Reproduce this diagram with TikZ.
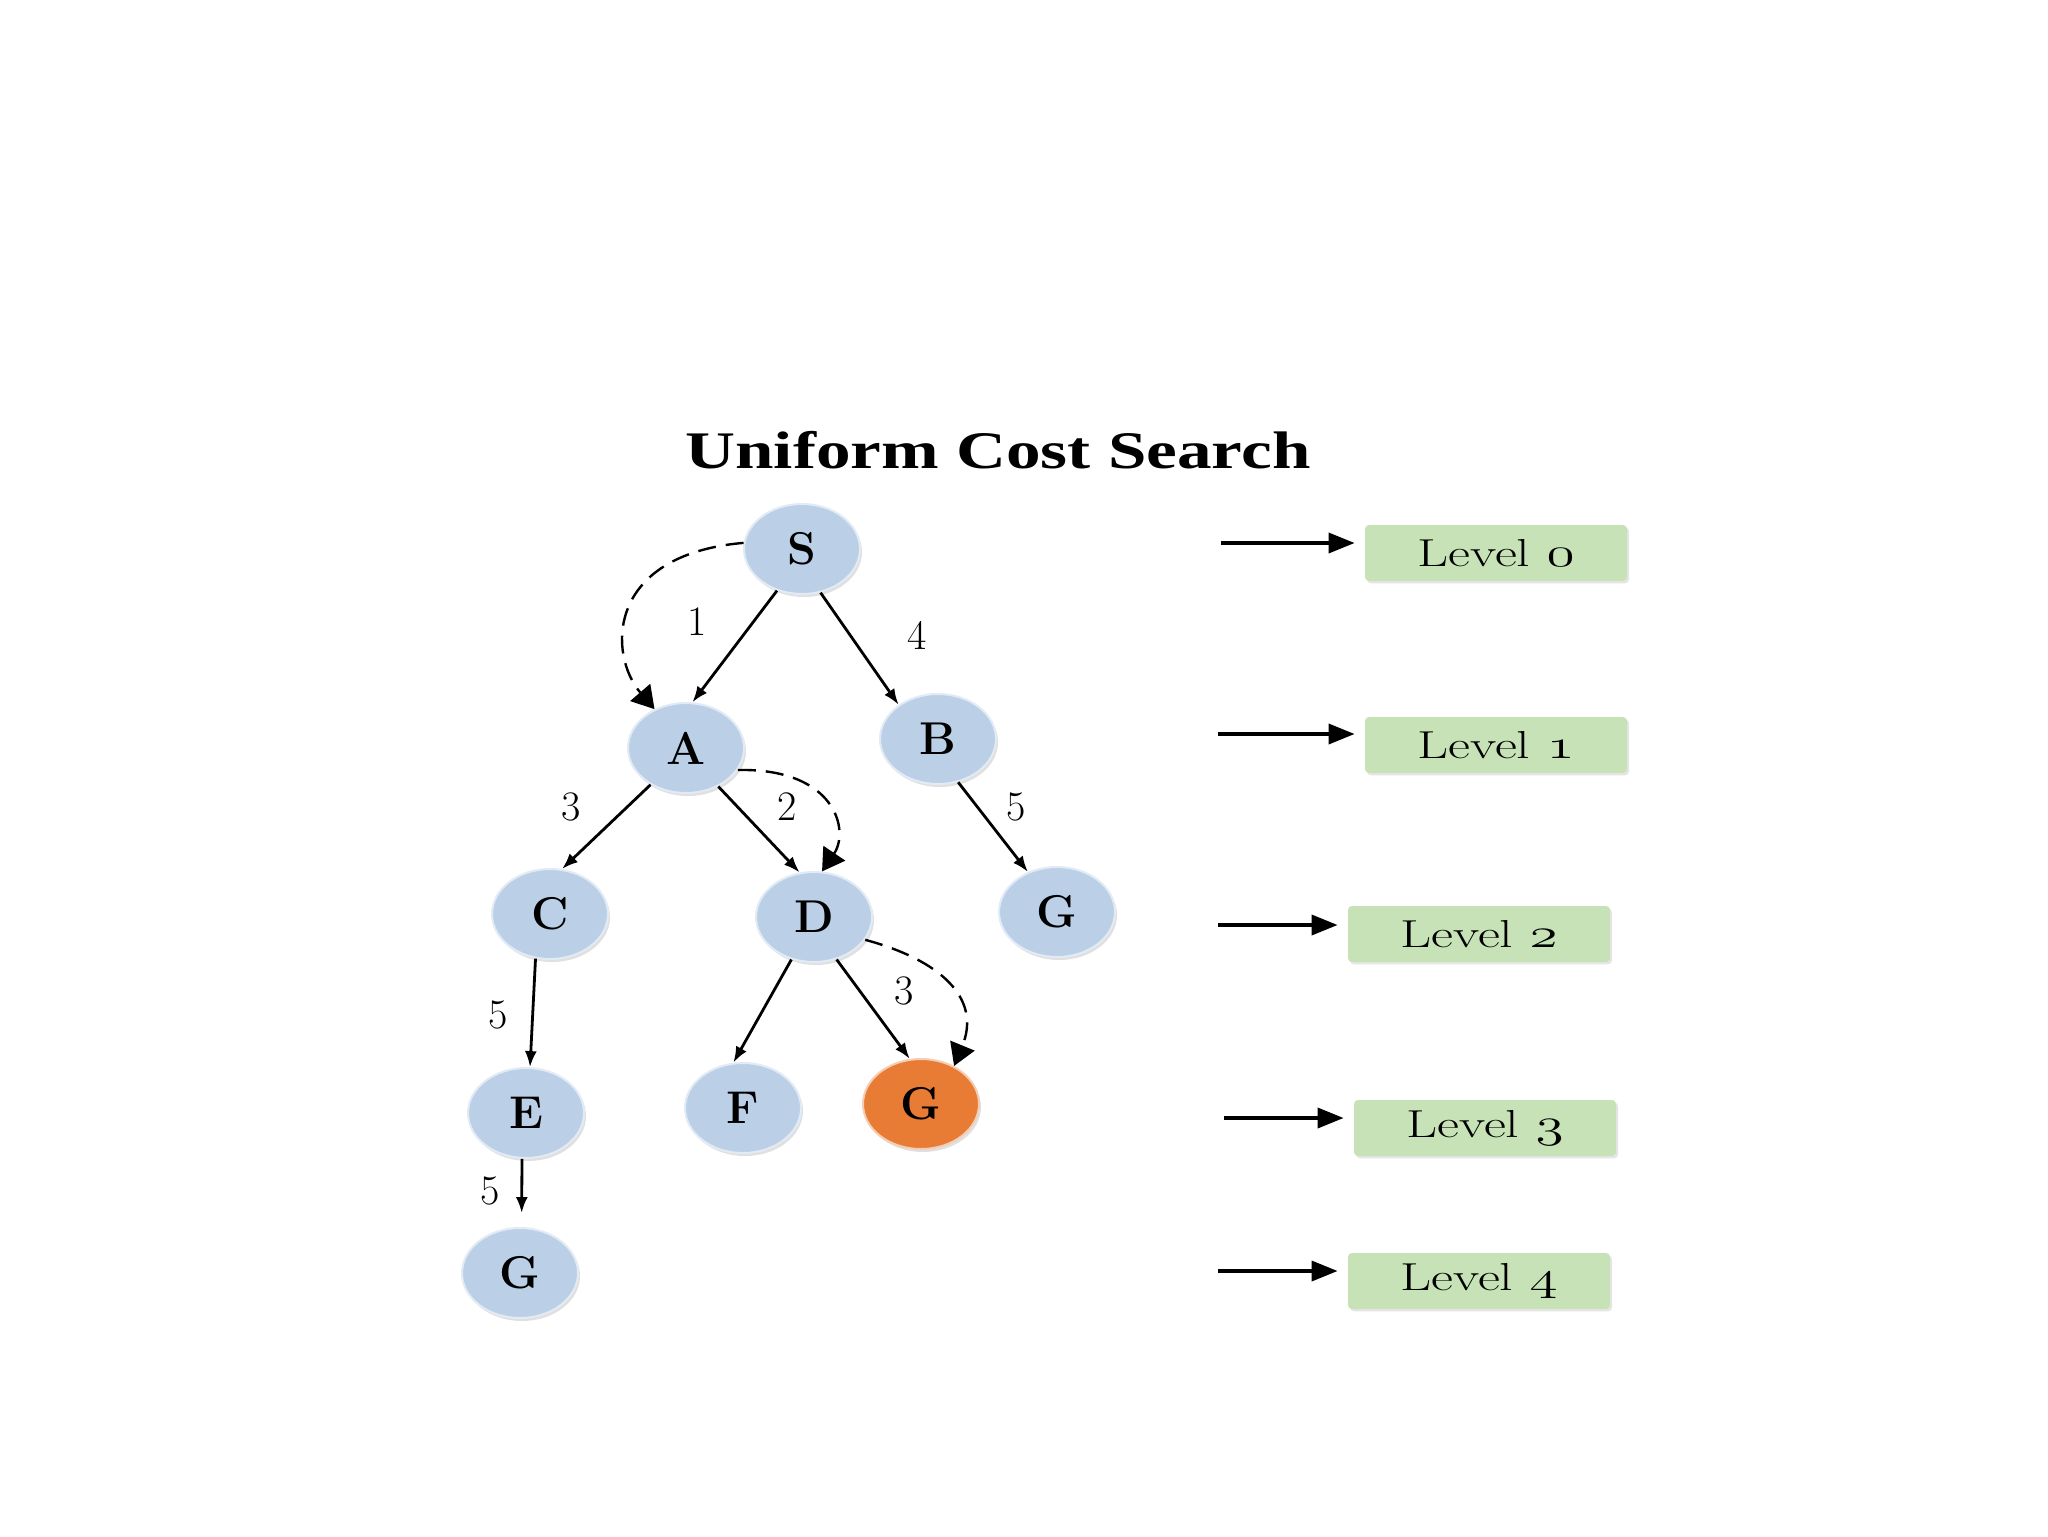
\documentclass[tikz,border=0pt]{standalone}
\usepackage{fontspec}
\usepackage{graphicx}
\newfontfamily\titlefont{Liberation Serif}
\usetikzlibrary{arrows.meta,shapes.geometric,shadows}
\definecolor{nodeblue}{RGB}{187,208,231}
\definecolor{noderim}{RGB}{226,235,245}
\definecolor{goalorange}{RGB}{233,124,52}
\definecolor{goalrim}{RGB}{245,205,180}
\definecolor{levelgreen}{RGB}{200,226,183}
\newcommand{\osnum}[1]{{\fontencoding{OML}\fontfamily{cmm}\fontseries{m}\fontshape{it}\selectfont #1}}
\tikzset{
  tnode/.style={ellipse, minimum width=58pt, minimum height=45pt, inner sep=0pt,
    fill=nodeblue, draw=noderim, line width=1pt,
    font=\fontsize{23}{27}\selectfont\bfseries,
    drop shadow={shadow xshift=1pt, shadow yshift=-1.5pt, opacity=0.3, fill=black!40}},
  goalnode/.style={tnode, fill=goalorange, draw=goalrim},
  treeedge/.style={line width=1.4pt, -{Latex[length=8pt,width=6pt]}},
  trail/.style={line width=1.2pt, dash pattern=on 9pt off 5pt, -{Triangle[length=11pt,width=13pt]}},
  lbl/.style={font=\fontsize{21}{24}\selectfont, inner sep=0pt},
  levelbox/.style={rectangle, rounded corners=2pt, fill=levelgreen, minimum width=131pt,
    minimum height=28pt, inner sep=0pt, font=\fontsize{19.5}{22}\selectfont,
    drop shadow={shadow xshift=1pt, shadow yshift=-1.2pt, opacity=0.25, fill=black!40}},
  levelarrow/.style={line width=1.8pt, -{Triangle[length=13pt,width=10pt]}, shorten >=5pt},
}
\begin{document}
\begin{tikzpicture}[x=0.5pt,y=-0.5pt]
\useasboundingbox[fill=white] (0,0) rectangle (2048,1536);

% title
\node[font=\titlefont\bfseries\fontsize{26.4}{30}\selectfont, anchor=base, inner sep=0pt] (title) at (998,468) {\scalebox{1.31}[1]{Uniform Cost Search}};

% tree nodes
\node[tnode] (S) at (802,549) {S};
\node[tnode] (A) at (686,748) {A};
\node[tnode] (B) at (938,739) {B};
\node[tnode] (C) at (550,914) {C};
\node[tnode] (D) at (814,917) {D};
\node[tnode] (G2) at (1057,912) {G};
\node[tnode] (E) at (526,1113) {E};
\node[tnode] (F) at (743,1108) {F};
\node[goalnode] (Gg) at (921,1104) {G};
\node[tnode] (G4) at (520,1273) {G};

% tree edges
\draw[treeedge] (S.-121) -- (A.82);
\draw[treeedge] (S.-67) -- (B.139);
\draw[treeedge] (A.-134) -- (C.75);
\draw[treeedge] (A.-50) -- (D.108);
\draw[treeedge] (B.-65) -- (G2.126);
\draw[treeedge] (C.-108) -- (E.85);
\draw[treeedge] (D.-118) -- (F.102);
\draw[treeedge] (D.-62) -- (Gg.104);
\draw[treeedge, shorten >=7pt] (E.-95) -- (G4.88);

% search trail (dashed)
\draw[trail] (S.174) .. controls (605,555) and (608,655) .. (A.129);
\draw[trail] (A.-23) .. controls (835,768) and (850,830) .. (D.80);
\draw[trail] (D.-24) .. controls (940,960) and (982,998) .. (Gg.49);

% edge costs
\node[lbl] (c1) at (697,622) {1};
\node[lbl] (c2) at (917,635) {4};
\node[lbl] (c3) at (571,807) {3};
\node[lbl] (c4) at (787,807) {2};
\node[lbl] (c5) at (1016,807) {5};
\node[lbl] (c6) at (498,1015) {5};
\node[lbl] (c7) at (904,991) {3};
\node[lbl] (c8) at (490,1191) {5};

% levels
\node[levelbox] (L0) at (1496,553) {\scalebox{1.38}[1]{Level \osnum{0}}};
\node[levelbox] (L1) at (1496,745) {\scalebox{1.38}[1]{Level \osnum{1}}};
\node[levelbox] (L2) at (1479,934) {\scalebox{1.38}[1]{Level \osnum{2}}};
\node[levelbox] (L3) at (1485,1128) {\scalebox{1.38}[1]{Level \osnum{3}}};
\node[levelbox] (L4) at (1479,1281) {\scalebox{1.38}[1]{Level \osnum{4}}};

\coordinate (a0) at (1221,543);
\coordinate (a1) at (1218,734);
\coordinate (a2) at (1218,925);
\coordinate (a3) at (1224,1118);
\coordinate (a4) at (1218,1271);
\draw[levelarrow] (a0) -- (a0 -| L0.west);
\draw[levelarrow] (a1) -- (a1 -| L1.west);
\draw[levelarrow] (a2) -- (a2 -| L2.west);
\draw[levelarrow] (a3) -- (a3 -| L3.west);
\draw[levelarrow] (a4) -- (a4 -| L4.west);
\end{tikzpicture}
\end{document}
